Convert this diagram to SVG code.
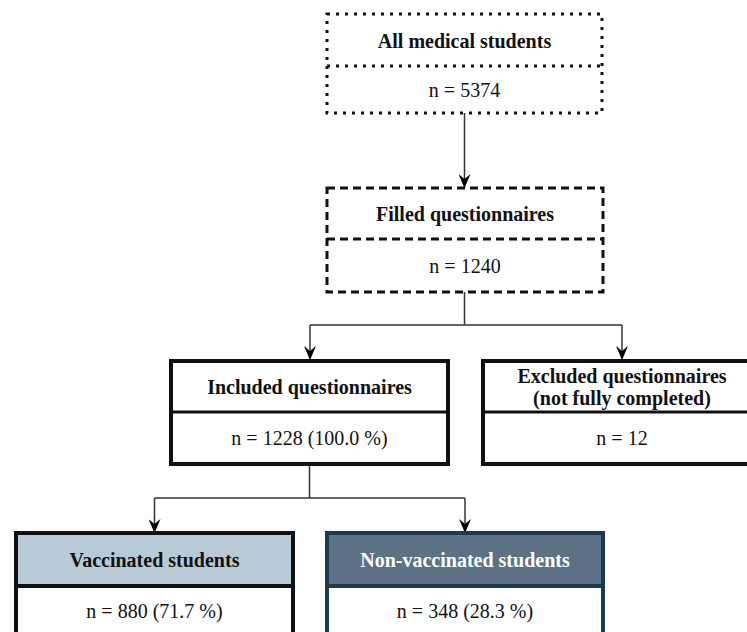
<svg xmlns="http://www.w3.org/2000/svg" width="747" height="632" viewBox="0 0 747 632">
<defs>
<marker id="arr" viewBox="0 0 14 12" refX="14" refY="6" markerWidth="14" markerHeight="12" markerUnits="userSpaceOnUse" orient="auto">
<path d="M0,0 L14,6 L0,12 L5,6 Z" fill="#000"/>
</marker>
<style>
text{font-family:'Liberation Serif','Tinos','Times New Roman','Nimbus Roman','DejaVu Serif',serif;font-size:20px;fill:#111;text-anchor:middle;dominant-baseline:central}
.b{font-weight:bold}
.w{fill:#fff}
.dot{fill:none;stroke:#111;stroke-width:3;stroke-dasharray:3 6}
.dash{fill:none;stroke:#111;stroke-width:3;stroke-dasharray:8 5}
.solid{fill:#fff;stroke:#111;stroke-width:4}
.div{stroke:#111;stroke-width:3}
.c{fill:none;stroke:#333;stroke-width:1.5}
</style>
</defs>
<rect width="747" height="632" fill="#fff"/>
<g id="connectors">
<path class="c" d="M464.5,113 V188" marker-end="url(#arr)"/>
<path class="c" d="M464.5,292 V325 M310,325 H622"/>
<path class="c" d="M310,325 V360" marker-end="url(#arr)"/>
<path class="c" d="M622,325 V360" marker-end="url(#arr)"/>
<path class="c" d="M309.5,464 V498 M154.5,498 H465"/>
<path class="c" d="M154.5,498 V533" marker-end="url(#arr)"/>
<path class="c" d="M465,498 V533" marker-end="url(#arr)"/>
</g>
<g id="all-students">
<rect class="dot" x="327" y="14" width="275" height="99" fill="#fff"/>
<line class="dot" x1="327" y1="66" x2="602" y2="66"/>
<text class="b" x="464.5" y="41">All medical students</text>
<text x="464.5" y="90">n = 5374</text>
</g>
<g id="filled">
<rect class="dash" x="327" y="188" width="276" height="104"/>
<line class="dash" x1="327" y1="239" x2="603" y2="239"/>
<text class="b" x="465" y="214">Filled questionnaires</text>
<text x="465" y="266">n = 1240</text>
</g>
<g id="included">
<rect class="solid" x="171" y="361" width="277" height="103"/>
<line class="div" x1="171" y1="412" x2="448" y2="412"/>
<text class="b" x="309.5" y="387">Included questionnaires</text>
<text x="309.5" y="438">n = 1228 (100.0 %)</text>
</g>
<g id="excluded">
<rect class="solid" x="483" y="361" width="278" height="103"/>
<line class="div" x1="483" y1="412" x2="761" y2="412"/>
<text class="b" x="622" y="376">Excluded questionnaires</text>
<text class="b" x="622" y="398">(not fully completed)</text>
<text x="622" y="438">n = 12</text>
</g>
<g id="vaccinated">
<rect x="16" y="533" width="277" height="120" fill="#fff" stroke="#111" stroke-width="4"/>
<rect x="16" y="533" width="277" height="53" fill="#b7cad5" stroke="#111" stroke-width="4"/>
<text class="b" x="154.5" y="560">Vaccinated students</text>
<text x="154.5" y="611">n = 880 (71.7 %)</text>
</g>
<g id="non-vaccinated">
<rect x="327" y="533" width="276" height="120" fill="#fff" stroke="#1d3a52" stroke-width="4"/>
<rect x="327" y="533" width="276" height="53" fill="#5d7185" stroke="#1d3a52" stroke-width="4"/>
<text class="b w" x="465" y="560">Non-vaccinated students</text>
<text x="465" y="611">n = 348 (28.3 %)</text>
</g>
</svg>
